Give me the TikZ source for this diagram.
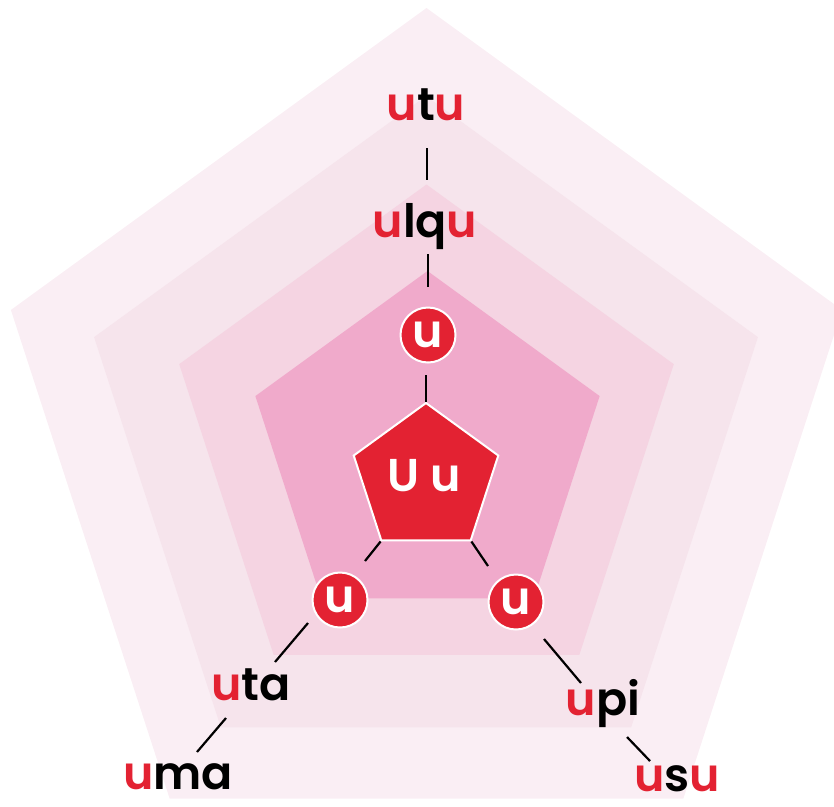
\documentclass[tikz,border=0pt]{standalone}
\usepackage{fontspec}
\setmainfont{Poppins SemiBold}
\usetikzlibrary{shapes.geometric}
\definecolor{ured}{HTML}{E32232}
\definecolor{layA}{HTML}{FAEEF4}
\definecolor{layB}{HTML}{F6E4EC}
\definecolor{layC}{HTML}{F5D4E2}
\definecolor{layD}{HTML}{F0AACB}
\newcommand\pentlayer[4]{%
  \fill[#1] ({#2},{#3-#4}) -- ({#2-0.951057*#4},{#3-0.309017*#4})
    -- ({#2-0.587785*#4},{#3+0.809017*#4}) -- ({#2+0.587785*#4},{#3+0.809017*#4})
    -- ({#2+0.951057*#4},{#3-0.309017*#4}) -- cycle;}
\newcommand\ru{\textcolor{ured}{u}}
\begin{document}
\begin{tikzpicture}[x=1pt,y=-1pt,
  conn/.style={line width=2.2pt, black},
  lbl/.style={anchor=base, inner sep=0pt, font=\fontsize{46}{46}\selectfont},
  bub/.style={circle, fill=ured, draw=white, line width=2pt, minimum size=55pt,
              inner sep=0pt, text=white, font=\fontsize{46}{46}\selectfont},
  core/.style={regular polygon, regular polygon sides=5, fill=ured, draw=white,
              line width=2pt, minimum size=152pt, inner sep=0pt}]
\useasboundingbox (0,0) rectangle (834,806);
\clip (0,0) rectangle (834,806);
% background layers
\pentlayer{layA}{426.5}{445}{437}
\pentlayer{layB}{426}{445}{349}
\pentlayer{layC}{426.5}{444.5}{260}
\pentlayer{layD}{427.5}{452}{181}
% core
\node[core] (core) at (426,479) {};
\node[lbl, text=white] (corelabel) at (424,491) {U u};
% bubbles
\node[bub] (bt) at (428,335) {u};
\node[bub] (bl) at (340,600) {u};
\node[bub] (br) at (516,602) {u};
% labels
\node[lbl] (utu)  at (426,120) {\ru t\ru};
\node[lbl] (ulqu) at (425,237) {\ru lq\ru};
\node[lbl] (uta)  at (251,700) {\ru ta};
\node[lbl] (uma)  at (178,789) {\ru ma};
\node[lbl] (upi)  at (603,715) {\ru pi};
\node[lbl] (usu)  at (677,791) {\ru s\ru};
% connector end points
\coordinate (utuE)  at (427,148);
\coordinate (ulquS) at (427,180);
\coordinate (ulquE) at (428,254);
\coordinate (btS)   at (428,287);
\coordinate (btE)   at (426,375);
\coordinate (blS)   at (365,561);
\coordinate (brS)   at (488,566);
\coordinate (blE)   at (308,623);
\coordinate (utaS)  at (275,662);
\coordinate (utaE)  at (226,718);
\coordinate (umaS)  at (197,752);
\coordinate (brE)   at (544,639);
\coordinate (upiS)  at (581,683);
\coordinate (upiE)  at (627,737);
\coordinate (usuS)  at (650,761);
% connectors
\draw[conn] (utuE) -- (ulquS);
\draw[conn] (ulquE) -- (btS);
\draw[conn] (btE) -- (core.corner 1);
\draw[conn] (core.corner 3) -- (blS);
\draw[conn] (core.corner 4) -- (brS);
\draw[conn] (blE) -- (utaS);
\draw[conn] (utaE) -- (umaS);
\draw[conn] (brE) -- (upiS);
\draw[conn] (upiE) -- (usuS);
\end{tikzpicture}
\end{document}
